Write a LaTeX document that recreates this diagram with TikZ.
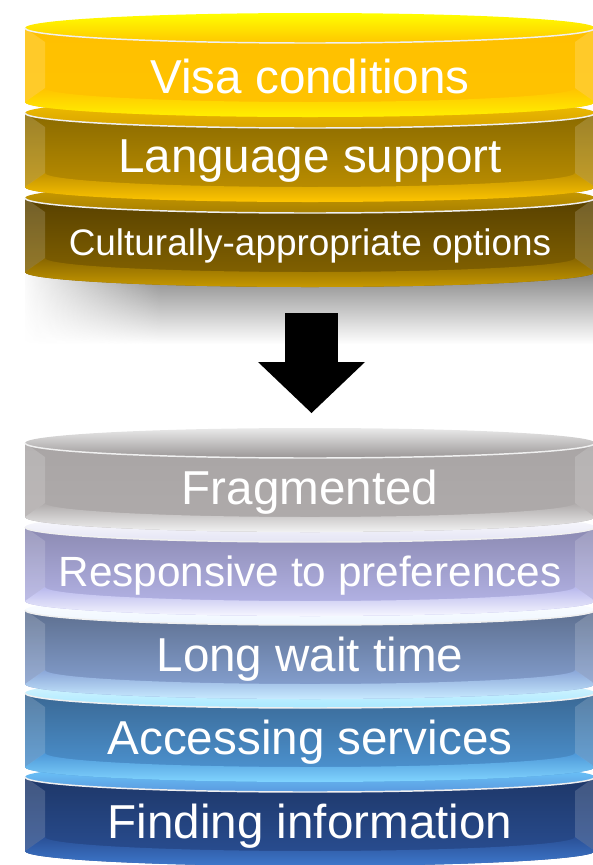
\documentclass[tikz,border=0pt]{standalone}
\usepackage{fontspec}
\setmainfont{Liberation Sans}
\usetikzlibrary{arrows.meta,fadings}

% body top, body middle, bottom band, face, face highlight
\definecolor{visatop}{HTML}{FFC000}
\definecolor{visamid}{HTML}{FFC300}
\definecolor{visaband}{HTML}{FFF000}
\definecolor{visaface}{HTML}{FFC600}
\definecolor{visafacehi}{HTML}{FFFF00}
\definecolor{langtop}{HTML}{8A6A00}
\definecolor{langmid}{HTML}{C29300}
\definecolor{langband}{HTML}{FFC600}
\definecolor{langface}{HTML}{D8A400}
\definecolor{langfacehi}{HTML}{F2C000}
\definecolor{culttop}{HTML}{584100}
\definecolor{cultmid}{HTML}{886600}
\definecolor{cultband}{HTML}{C69800}
\definecolor{cultface}{HTML}{A88000}
\definecolor{cultfacehi}{HTML}{D0A000}
\definecolor{fragtop}{HTML}{A9A5A5}
\definecolor{fragmid}{HTML}{AFABAB}
\definecolor{fragband}{HTML}{F2F2F2}
\definecolor{fragface}{HTML}{9A9696}
\definecolor{fragfacehi}{HTML}{EAEAEA}
\definecolor{resptop}{HTML}{8C8AB2}
\definecolor{respmid}{HTML}{B8B8EC}
\definecolor{respband}{HTML}{F6F6FF}
\definecolor{respface}{HTML}{E4E4F4}
\definecolor{respfacehi}{HTML}{FFFFFF}
\definecolor{waittop}{HTML}{5D6F8F}
\definecolor{waitmid}{HTML}{8AA6D8}
\definecolor{waitband}{HTML}{C8EAFF}
\definecolor{waitface}{HTML}{EEF6FF}
\definecolor{waitfacehi}{HTML}{FFFFFF}
\definecolor{accesstop}{HTML}{3A6894}
\definecolor{accessmid}{HTML}{4E98D8}
\definecolor{accessband}{HTML}{80D4FF}
\definecolor{accessface}{HTML}{A8E8FF}
\definecolor{accessfacehi}{HTML}{E0F8FF}
\definecolor{infotop}{HTML}{1E3768}
\definecolor{infomid}{HTML}{2A5096}
\definecolor{infoband}{HTML}{3E78CC}
\definecolor{infoface}{HTML}{5A9AE0}
\definecolor{infofacehi}{HTML}{70D0FF}

\tikzfading[name=shadowdown,top color=transparent!0,bottom color=transparent!100]
\tikzfading[name=shadowleft,left color=transparent!0,right color=transparent!100]

\tikzset{
  layer text/.style={text=white,inner sep=0pt},
  rim/.style={draw=white!88!gray,line width=1.1pt},
  bevel/.style={fill=white,opacity=0.16},
  big arrow/.style={line width=39.75pt,-{Triangle[width=80.25pt,length=38.25pt,line width=0pt]}}
}

% one disc of a stack: #1 top of the side wall, #2 colour prefix
\newcommand{\disc}[2]{%
  \shade[top color=#2top,bottom color=#2mid] (25,#1) -- (25,#1+74)
    arc[start angle=180,end angle=0,x radius=285,y radius=15] -- (595,#1) -- cycle;
  \shade[top color=#2mid,bottom color=#2band] (25,#1+74)
    arc[start angle=180,end angle=0,x radius=285,y radius=15] -- (575,#1+60)
    arc[start angle=0,end angle=180,x radius=265,y radius=14] -- cycle;
  \fill[bevel] (25,#1) -- (45,#1+14) -- (45,#1+60) -- (25,#1+74) -- cycle;
  \fill[bevel] (595,#1) -- (575,#1+14) -- (575,#1+60) -- (595,#1+74) -- cycle;
  \shade[top color=#2facehi,bottom color=#2face] (310,#1) ellipse [x radius=285,y radius=15];
  \draw[rim] (25,#1) arc[start angle=180,end angle=0,x radius=285,y radius=15];
}

\begin{document}
\begin{tikzpicture}[x=0.75pt,y=-0.75pt]
  \useasboundingbox (0,0) rectangle (593,865);
  \clip (0,0) rectangle (593,865);

  % shadow under the upper stack
  \fill[black!46,path fading=shadowdown] (25,274) rectangle (593,344);
  \fill[white,path fading=shadowleft] (20,265) rectangle (160,350);

  % upper stack, lowest disc first
  \foreach \yt/\id/\fs/\txt in {198/cult/27.7/Culturally-appropriate options,
                                113/lang/35.7/Language support,
                                28/visa/35.7/Visa conditions} {
    \disc{\yt}{\id}
    \node[layer text,font=\fontsize{\fs}{\fs}\selectfont] (\id) at (310,\yt+48) {\txt};
  }

  % arrow between the stacks
  \coordinate (arrowstart) at (311.5,313);
  \coordinate (arrowend) at (311.5,413);
  \draw[big arrow] (arrowstart) -- (arrowend);

  % lower stack
  \foreach \yt/\id/\fs/\txt in {777/info/35.7/Finding information,
                                693/access/35.7/Accessing services,
                                610/wait/35.7/Long wait time,
                                527/resp/31.7/Responsive to preferences,
                                443/frag/35.7/Fragmented} {
    \disc{\yt}{\id}
    \node[layer text,font=\fontsize{\fs}{\fs}\selectfont] (\id) at (310,\yt+49) {\txt};
  }
\end{tikzpicture}
\end{document}
